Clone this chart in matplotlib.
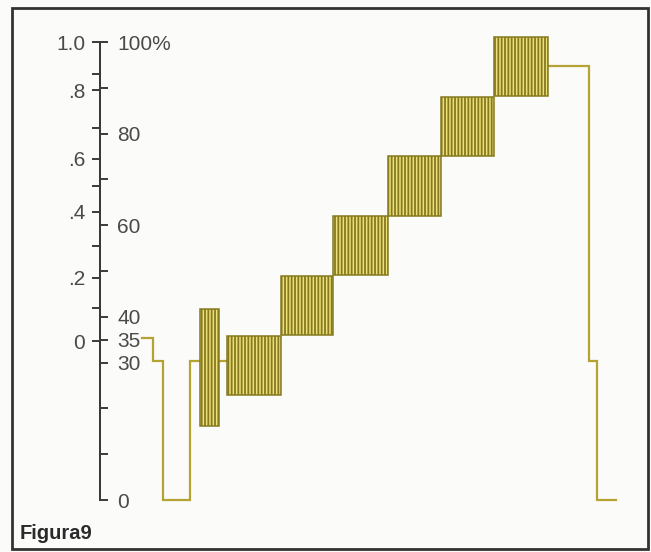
import matplotlib
matplotlib.use("Agg")
import matplotlib.pyplot as plt
from matplotlib.patches import Rectangle
import numpy as np

# ---- waveform data (time in microseconds, level in IRE) ----
lead_t = [-3.5, -1.7, 0.0, 4.5, 6.2]          # porch, sync, breezeway
lead_v = [35.4, 30.3, 0.0, 30.3, 30.3]

burst_start = 6.2
burst_end = 9.3
burst_level = 29.0
burst_amp = 12.8

link_t = [9.3, 10.7]
link_v = [30.3, 30.3]

step_edges = [10.7, 19.6, 28.3, 37.5, 46.3, 55.2, 64.2]
step_levels = [29.4, 42.5, 55.6, 68.6, 81.6, 94.7]
chroma_amp = 6.5

tail_t = [64.2, 71.0, 72.3, 75.5]
tail_v = [94.8, 30.3, 0.0, 0.0]

# ---- scale ticks ----
volt_pos = [100, 93.0, 89.5, 81.2, 74.5, 68.6, 62.9, 55.5, 48.5, 41.9, 34.7]
volt_lbl = ["1.0", "", ".8", "", ".6", "", ".4", "", ".2", "", "0"]
ire_pos = [100, 90, 80, 70, 60, 50, 40, 35, 30, 20, 10, 0]
ire_lbl = ["100%", "", "80", "", "60", "", "40", "35", "30", "", "", "0"]

axis_t = -10.5

LINE = "#b4a232"
EDGE = "#857a20"
FILL = "#eee07a"
INK = "#3a3a3a"
TXT = "#4a4a4a"

plt.rcParams["font.family"] = ["Liberation Sans", "DejaVu Sans"]
plt.rcParams["hatch.linewidth"] = 1.3

fig = plt.figure(figsize=(6.51, 5.52), dpi=100)
fig.patch.set_facecolor("#fbfbf9")

ax = fig.add_axes([40 / 651, (552 - 522.9) / 552, 600 / 651, (522.9 - 19.1) / 552])
ax.set_xlim(-20.5, 79.5)
ax.set_ylim(-5, 105)
ax.patch.set_visible(False)

# trace
for t, v in ((lead_t, lead_v), (link_t, link_v), (tail_t, tail_v)):
    ax.plot(t, v, drawstyle="steps-post", color=LINE, lw=1.6,
            solid_joinstyle="miter", zorder=2)

# colour burst
ax.bar([burst_start], [2 * burst_amp], bottom=[burst_level - burst_amp],
       width=burst_end - burst_start, align="edge",
       facecolor=FILL, edgecolor=EDGE, hatch="|||||", lw=1.1, zorder=3)

# modulated staircase
starts = np.array(step_edges[:-1])
widths = np.diff(step_edges)
levels = np.array(step_levels)
ax.bar(starts, 2 * chroma_amp, bottom=levels - chroma_amp, width=widths,
       align="edge", facecolor=FILL, edgecolor=EDGE, hatch="|||||",
       lw=1.1, zorder=3)

# volt scale on the left side of the shared spine
for s in ("top", "right", "bottom"):
    ax.spines[s].set_visible(False)
ax.spines["left"].set_position(("data", axis_t))
ax.spines["left"].set_bounds(0, 100)
ax.spines["left"].set_color(INK)
ax.spines["left"].set_linewidth(1.4)
ax.set_xticks([])
ax.set_yticks(volt_pos)
ax.set_yticklabels(volt_lbl)
ax.tick_params(axis="y", direction="out", length=5.8, width=1.4, color=INK,
               pad=5, labelsize=15, labelcolor=TXT)

# IRE scale on the right side of the same spine
ax2 = ax.twinx()
ax2.set_ylim(ax.get_ylim())
ax2.patch.set_visible(False)
for s in ("top", "left", "bottom"):
    ax2.spines[s].set_visible(False)
ax2.spines["right"].set_position(("data", axis_t))
ax2.spines["right"].set_bounds(0, 100)
ax2.spines["right"].set_color(INK)
ax2.spines["right"].set_linewidth(1.4)
ax2.set_yticks(ire_pos)
ax2.set_yticklabels(ire_lbl)
ax2.tick_params(axis="y", direction="out", length=5.8, width=1.4, color=INK,
                pad=6.5, labelsize=15, labelcolor=TXT)

# frame and caption
fig.add_artist(Rectangle((12 / 651, 1 - 549 / 552), (648 - 12) / 651,
                         (549 - 8) / 552, transform=fig.transFigure,
                         fill=False, lw=2, ec="#333333"))
fig.text(20 / 651, (552 - 539) / 552, "Figura9", fontsize=14.5, fontweight="bold",
         color="#2a2a2a", va="baseline", ha="left")

fig.savefig("out.png", dpi=100, facecolor=fig.get_facecolor())
